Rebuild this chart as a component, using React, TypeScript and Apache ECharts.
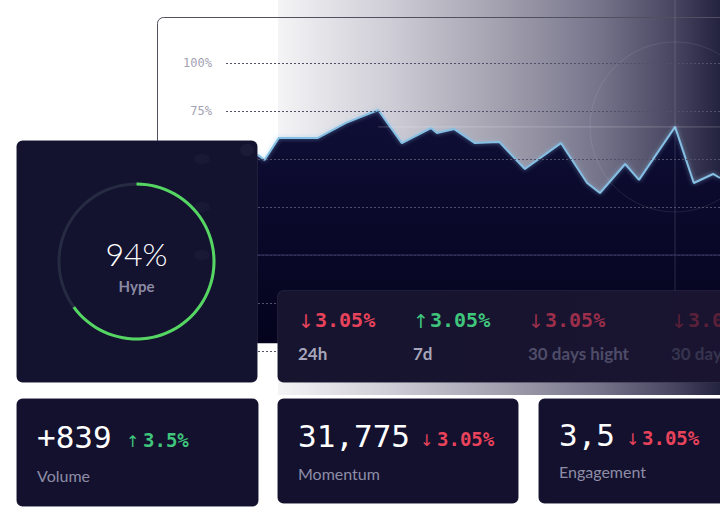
import React, { useEffect, useRef } from 'react';
import * as echarts from 'echarts';

// ---- data ----
const trendPos = [0, 6.5, 7.8, 10.7, 18.6, 24.3, 30.8, 35.6, 41.5, 42.7, 46.2, 50.4, 55.3, 60.5, 67.8, 73.1, 75.7, 80.8, 83.6, 90.9, 94.7, 98.6, 100];
const trendPct = [55, 52, 49.5, 61, 61, 68.8, 75.5, 58.3, 66.1, 63.5, 65.6, 58.3, 58.9, 44.8, 58.3, 37.5, 32.3, 47.4, 39.1, 66.7, 37.5, 42.2, 40.1];
const highlightIndex = 19;
const crossStartIndex = 6;
const visibleTickFrom = 75;

const hypeText = '94%';
const hypeLabel = 'Hype';
const hypeArc = 65;

const statArrows = ['↓', '↑', '↓', '↓'];
const statValues = ['3.05%', '3.05%', '3.05%', '3.05%'];
const statLabels = ['24h', '7d', '30 days hight', '30 days hight'];

const kpiValues = ['+839', '31,775', '3,5'];
const kpiArrows = ['↑', '↓', '↓'];
const kpiChanges = ['3.5%', '3.05%', '3.05%'];
const kpiLabels = ['Volume', 'Momentum', 'Engagement'];

// ---- styling / layout ----
const RED = '#e8435b';
const GREEN = '#3fc67c';
const statX = [298, 413, 528, 671];
const statValColors = [RED, GREEN, '#9b2f4b', '#5a2039'];
const statLabColors = ['#a7a6ba', '#a7a6ba', '#4e4c68', '#36344f'];
const kpiCardX = [16, 277, 538];
const kpiCardW = [242, 241, 200];
const kpiCardH = [108, 105, 105];
const kpiArrowX = [126, 420, 626];
const kpiChangeX = [143, 437, 642];
const kpiColors = [GREEN, RED, RED];
const kpiValY = [437, 436, 435];
const kpiLabY = [475, 473, 471];

const MONO = '"DejaVu Sans Mono", monospace';
const SANS = 'Lato, "Noto Sans", sans-serif';
const ARROWF = '"DejaVu Sans", sans-serif';

export default function App() {
  const ref = useRef<HTMLDivElement>(null);
  useEffect(() => {
    if (!ref.current) return;
    const chart = echarts.init(ref.current, null, { renderer: 'svg' });
    const option: any = {
      animation: false,
      backgroundColor: '#ffffff',
      grid: { left: 226, right: 0, top: 63, bottom: 167 },
      xAxis: {
        type: 'value', min: 0, max: 100, z: 4,
        axisLine: { show: true, onZero: true, lineStyle: { color: '#2a2952', width: 1.5 } },
        axisTick: { show: false }, axisLabel: { show: false }, splitLine: { show: false },
      },
      yAxis: {
        type: 'value', min: -50, max: 100, interval: 25, z: 4,
        axisLine: { show: false }, axisTick: { show: false },
        axisLabel: {
          margin: 14,
          color: '#a3a2b3',
          fontFamily: MONO,
          fontSize: 12,
          formatter: (v: number) => (v >= visibleTickFrom ? v + '%' : ''),
        },
        splitLine: { show: true, lineStyle: { color: '#51506a', width: 1, type: [2, 2] } },
      },
      series: [
        {
          type: 'line',
          z: 2,
          data: trendPos.map((x, i) => [x, trendPct[i]]),
          symbol: 'none',
          lineStyle: { color: '#86bfe4', width: 2, shadowBlur: 4, shadowColor: 'rgba(140,196,232,0.6)' },
          areaStyle: {
            origin: -46,
            opacity: 1,
            color: new echarts.graphic.LinearGradient(0, 0, 0, 1, [
              { offset: 0, color: '#0f0e36' },
              { offset: 1, color: '#04031d' },
            ]),
          },
        },
        {
          type: 'gauge',
          z: 12,
          center: [136.5, 261.5],
          radius: 79,
          startAngle: 90,
          endAngle: -270,
          min: 0,
          max: 100,
          pointer: { show: false },
          progress: { show: true, width: 3, itemStyle: { color: '#55d662' } },
          axisLine: { lineStyle: { width: 3, color: [[1, '#262b42']] } },
          axisTick: { show: false },
          splitLine: { show: false },
          axisLabel: { show: false },
          title: { show: false },
          detail: { show: false },
          data: [{ value: hypeArc }],
        },
      ],
    };
    chart.setOption(option);

    const peak = chart.convertToPixel({ gridIndex: 0 }, [trendPos[highlightIndex], trendPct[highlightIndex]]) as number[];
    const crossStart = chart.convertToPixel({ gridIndex: 0 }, [trendPos[crossStartIndex], trendPct[highlightIndex]]) as number[];

    const g: any[] = [];
    // background gradient
    g.push({
      type: 'rect', z: -10, silent: true,
      shape: { x: 278, y: 0, width: 442, height: 395 },
      style: {
        fill: new echarts.graphic.LinearGradient(0, 0, 1, 0, [
          { offset: 0, color: '#f4f4f6' },
          { offset: 0.25, color: '#cfcdd6' },
          { offset: 0.5, color: '#a3a1af' },
          { offset: 0.73, color: '#75738a' },
          { offset: 0.9, color: '#46445f' },
          { offset: 1, color: '#23223f' },
        ]),
      },
    });
    // frame: left and top edges with a rounded corner
    const frameStroke = { stroke: '#50505f', lineWidth: 1, fill: 'none' };
    g.push({
      type: 'polyline', z: -9, silent: true,
      shape: { points: [[157.5, 343], [157.5, 23.5]] },
      style: frameStroke,
    });
    g.push({
      type: 'arc', z: -9, silent: true,
      shape: { cx: 163.5, cy: 23.5, r: 6, startAngle: Math.PI, endAngle: Math.PI * 1.5 },
      style: frameStroke,
    });
    g.push({
      type: 'polyline', z: -9, silent: true,
      shape: { points: [[163.5, 17.5], [720, 17.5]] },
      style: frameStroke,
    });
    // crosshair
    g.push({
      type: 'line', z: 3, silent: true,
      shape: { x1: peak[0], y1: 0, x2: peak[0], y2: 300 },
      style: { stroke: 'rgba(255,255,255,0.15)', lineWidth: 1 },
    });
    g.push({
      type: 'line', z: 3, silent: true,
      shape: { x1: crossStart[0], y1: peak[1], x2: 720, y2: peak[1] },
      style: { stroke: 'rgba(255,255,255,0.22)', lineWidth: 1 },
    });
    g.push({
      type: 'circle', z: 3, silent: true,
      shape: { cx: peak[0], cy: peak[1], r: 85 },
      style: { fill: 'none', stroke: 'rgba(255,255,255,0.09)', lineWidth: 1 },
    });

    // Hype card
    g.push({
      type: 'rect', z: 10,
      shape: { x: 16.5, y: 140.5, width: 241, height: 242, r: 6 },
      style: { fill: '#13122f', stroke: 'rgba(255,255,255,0.07)', lineWidth: 1 },
    });
    [159, 207, 255].forEach((cy) => {
      g.push({
        type: 'ellipse', z: 11, silent: true,
        shape: { cx: 202, cy, rx: 8, ry: 5 },
        style: { fill: 'rgba(200,200,230,0.035)', shadowBlur: 16, shadowColor: 'rgba(200,200,230,0.22)' },
      });
    });
    g.push({
      type: 'ellipse', z: 11, silent: true,
      shape: { cx: 247, cy: 150, rx: 7, ry: 6 },
      style: { fill: 'rgba(200,210,240,0.04)', shadowBlur: 16, shadowColor: 'rgba(200,210,240,0.28)' },
    });
    g.push({
      type: 'text', z: 13,
      style: { x: 136.5, y: 253, text: hypeText, font: `300 32px ${SANS}`, fill: '#ffffff', textAlign: 'center', textVerticalAlign: 'middle' },
    });
    g.push({
      type: 'text', z: 13,
      style: { x: 136.5, y: 286, text: hypeLabel, font: `700 15px ${SANS}`, fill: '#8b8aa3', textAlign: 'center', textVerticalAlign: 'middle' },
    });

    // stats card
    g.push({
      type: 'rect', z: 10,
      shape: { x: 277.5, y: 290.5, width: 470, height: 92, r: 6 },
      style: {
        fill: new echarts.graphic.LinearGradient(0, 0, 1, 0, [
          { offset: 0, color: '#16142f' },
          { offset: 1, color: '#1a1430' },
        ]),
        stroke: 'rgba(255,255,255,0.07)', lineWidth: 1,
      },
    });
    statValues.forEach((v, i) => {
      g.push({
        type: 'text', z: 13,
        style: { x: statX[i], y: 321, text: statArrows[i], font: `400 19px ${ARROWF}`, fill: statValColors[i], textVerticalAlign: 'middle' },
      });
      g.push({
        type: 'text', z: 13,
        style: { x: statX[i] + 17, y: 320, text: v, font: `700 20px ${MONO}`, fill: statValColors[i], textVerticalAlign: 'middle' },
      });
      g.push({
        type: 'text', z: 13,
        style: { x: statX[i], y: 353, text: statLabels[i], font: `700 17px ${SANS}`, fill: statLabColors[i], textVerticalAlign: 'middle' },
      });
    });

    // KPI cards
    kpiValues.forEach((v, i) => {
      g.push({
        type: 'rect', z: 10,
        shape: { x: kpiCardX[i] + 0.5, y: 398.5, width: kpiCardW[i], height: kpiCardH[i], r: 6 },
        style: { fill: '#13112e', stroke: 'rgba(255,255,255,0.08)', lineWidth: 1 },
      });
      g.push({
        type: 'text', z: 13,
        style: { x: kpiCardX[i] + 21, y: kpiValY[i], text: v, font: `400 31px ${MONO}`, fill: '#ffffff', textVerticalAlign: 'middle' },
      });
      g.push({
        type: 'text', z: 13,
        style: { x: kpiArrowX[i], y: kpiValY[i] + 4, text: kpiArrows[i], font: `400 16px ${ARROWF}`, fill: kpiColors[i], textVerticalAlign: 'middle' },
      });
      g.push({
        type: 'text', z: 13,
        style: { x: kpiChangeX[i], y: kpiValY[i] + 3, text: kpiChanges[i], font: `700 19px ${MONO}`, fill: kpiColors[i], textVerticalAlign: 'middle' },
      });
      g.push({
        type: 'text', z: 13,
        style: { x: kpiCardX[i] + 21, y: kpiLabY[i], text: kpiLabels[i], font: `400 16px ${SANS}`, fill: '#8e8da6', textVerticalAlign: 'middle' },
      });
    });

    chart.setOption({ graphic: { elements: g } });
    return () => chart.dispose();
  }, []);
  return <div ref={ref} style={{ position: 'fixed', left: 0, top: 0, width: 720, height: 518 }} />;
}
